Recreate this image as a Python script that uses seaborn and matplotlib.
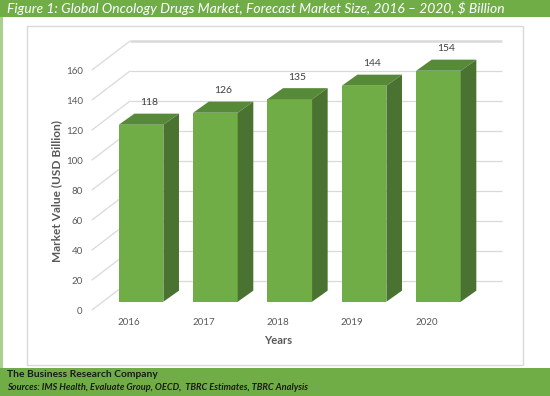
"""
Global oncology drugs market forecast, Excel-style 3D column chart.
"""

import matplotlib
matplotlib.use('Agg')
import matplotlib.pyplot as plt
from matplotlib.patches import Polygon, Rectangle
import seaborn as sns
import pandas as pd

# data
years = ['2016', '2017', '2018', '2019', '2020']
market_size = [118, 126, 135, 144, 154]
y_ticks = [0, 20, 40, 60, 80, 100, 120, 140, 160]

title_text = 'Figure 1: Global Oncology Drugs Market, Forecast Market Size, 2016 – 2020, $ Billion'
company = 'The Business Research Company'
sources = 'Sources: IMS Health, Evaluate Group, OECD,  TBRC Estimates, TBRC Analysis'

# colours
FRONT = '#70AD47'
TOP = '#578A38'
SIDE = '#4A7230'
GREEN = '#70AD47'
STRIP = '#A9D18E'
GRID = '#D9D9D9'
TXT = '#595959'

# oblique depth offsets (data units)
WALL_DX, WALL_DY = 0.511, 19.3
BAR_FX, BAR_FY = 0.16, 5.5
BAR_DX, BAR_DY = 0.21, 7.4

W, H = 550, 396


def px(x0, y0, x1, y1):
    """Pixel box (top-left origin) -> figure fraction rect."""
    return [x0 / W, 1 - y1 / H, (x1 - x0) / W, (y1 - y0) / H]


def add_rect(fig, box, **kw):
    r = px(*box)
    fig.add_artist(Rectangle((r[0], r[1]), r[2], r[3], transform=fig.transFigure, **kw))


sns.set_theme(style='white')
plt.rcParams['font.family'] = ['Lato', 'DejaVu Sans']

df = pd.DataFrame({'year': years, 'value': market_size})

fig = plt.figure(figsize=(5.5, 3.96), dpi=100)

# page frame: title banner, left strip, footer, chart border
add_rect(fig, (0, 0, W, 17), color=GREEN, lw=0)
add_rect(fig, (0, 17, 2.5, 368), color=STRIP, lw=0)
add_rect(fig, (0, 368, W, H), color=GREEN, lw=0)
add_rect(fig, (26.7, 25.5, 522.5, 364.5), fill=False, edgecolor=GRID, lw=1)

ax = fig.add_axes(px(92, 40, 463.7, 310))
ax.set_facecolor('none')

sns.barplot(data=df, x='year', y='value', color=FRONT, saturation=1, width=0.6,
            linewidth=0, ax=ax, zorder=3)

# push the fronts back into the floor and add top / side faces
for p, v in zip(list(ax.patches), market_size):
    p.set_x(p.get_x() + BAR_FX)
    p.set_y(p.get_y() + BAR_FY)
    x0, y0 = p.get_x(), p.get_y()
    x1, y1 = x0 + p.get_width(), y0 + p.get_height()
    top = Polygon([(x0, y1), (x1, y1), (x1 + BAR_DX, y1 + BAR_DY), (x0 + BAR_DX, y1 + BAR_DY)],
                  closed=True, facecolor=TOP, lw=0, zorder=3, clip_on=False)
    side = Polygon([(x1, y0), (x1 + BAR_DX, y0 + BAR_DY), (x1 + BAR_DX, y1 + BAR_DY), (x1, y1)],
                   closed=True, facecolor=SIDE, lw=0, zorder=3, clip_on=False)
    ax.add_patch(top)
    ax.add_patch(side)
    ax.text((x0 + x1) / 2 + BAR_DX / 2, y1 + BAR_DY + 7.2, f'{v}', ha='center', va='center',
            fontsize=7.5, color='#404040')

# back wall grid and side-wall diagonals
x_left, x_right = -0.5, len(years) - 0.5
for v in y_ticks:
    lw = 1.8 if v == y_ticks[-1] else 0.9
    ax.plot([x_left + WALL_DX, x_right + WALL_DX], [v + WALL_DY] * 2, color=GRID, lw=lw,
            zorder=1, clip_on=False, solid_capstyle='butt')
    ax.plot([x_left, x_left + WALL_DX], [v, v + WALL_DY], color=GRID, lw=0.9,
            zorder=1, clip_on=False)

ax.set_xlim(x_left, x_right)
ax.set_ylim(0, 180)
ax.set_yticks(y_ticks)
ax.grid(False)
sns.despine(ax=ax, left=True, bottom=True)
ax.tick_params(axis='y', length=0, pad=6.7, labelsize=7, labelcolor=TXT)
ax.tick_params(axis='x', length=0, pad=5.8, labelsize=7, labelcolor=TXT)

ax.set_xlabel('Years', fontsize=8, color=TXT, fontweight='bold')
ax.xaxis.label.set_va('center')
ax.xaxis.set_label_coords(0.5, (310 - 341) / 270)
ax.set_ylabel('Market Value (USD Billion)', fontsize=8.6, color=TXT, fontweight='bold')
ax.yaxis.label.set_va('center')
ax.yaxis.set_label_coords((56.7 - 92) / 371.7, (310 - 191) / 270)

# banner and footer text
fig.text(7 / W, 1 - 8.5 / H, title_text, color='white', style='italic', fontsize=10, va='center')
fig.text(7 / W, 1 - 374.5 / H, company, color='#1A1A1A', fontweight='bold', fontsize=7.4, va='center')
fig.text(7 / W, 1 - 388 / H, sources, color='#1A1A1A', fontweight='bold', style='italic',
         fontsize=6.7, va='center')

fig.savefig('out.png', dpi=100)
